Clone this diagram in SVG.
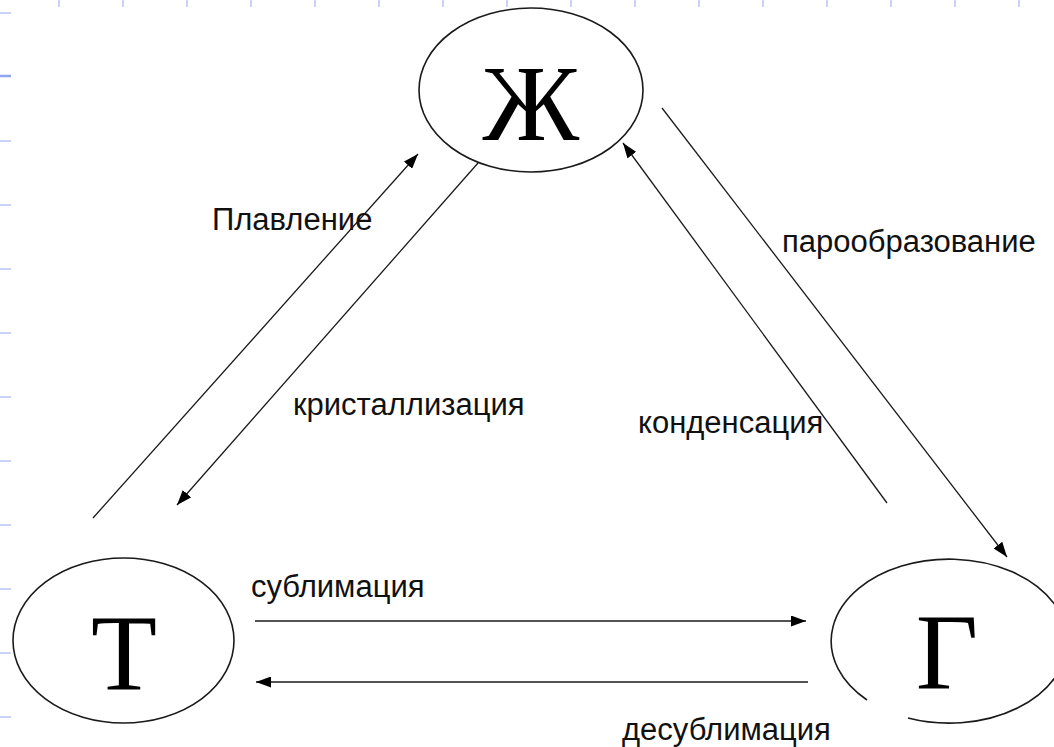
<svg xmlns="http://www.w3.org/2000/svg" width="1054" height="747" viewBox="0 0 1054 747">
  <style>
    .tick { stroke: #c9d4f7; stroke-width: 2; }
    .tick-dark { stroke: #8ea6f0; stroke-width: 2.5; }
    .node { fill: none; stroke: #1a1a1a; stroke-width: 1.6; }
    .big { font-family: "Liberation Serif", "Times New Roman", serif; font-size: 108px; fill: #000; text-anchor: middle; }
    .lbl { font-family: "Liberation Sans", Arial, sans-serif; font-size: 31px; fill: #111; }
    .conn { stroke: #1a1a1a; stroke-width: 1.3; fill: none; marker-end: url(#ah); }
    .conn-plain { stroke: #1a1a1a; stroke-width: 1.3; fill: none; }
  </style>
  <defs>
    <marker id="ah" viewBox="0 0 15 11" refX="15" refY="5.5" markerWidth="15" markerHeight="11" orient="auto" markerUnits="userSpaceOnUse">
      <path d="M0,0 L15,5.5 L0,11 z" fill="#000"/>
    </marker>
  </defs>
  <rect x="0" y="0" width="1054" height="747" fill="#fff"/>

  <g id="grid">
    <line class="tick" x1="59" y1="0" x2="59" y2="7"/>
    <line class="tick" x1="123" y1="0" x2="123" y2="7"/>
    <line class="tick" x1="187" y1="0" x2="187" y2="7"/>
    <line class="tick" x1="251" y1="0" x2="251" y2="7"/>
    <line class="tick" x1="315" y1="0" x2="315" y2="7"/>
    <line class="tick" x1="379" y1="0" x2="379" y2="7"/>
    <line class="tick" x1="443" y1="0" x2="443" y2="7"/>
    <line class="tick" x1="507" y1="0" x2="507" y2="7"/>
    <line class="tick" x1="571" y1="0" x2="571" y2="7"/>
    <line class="tick" x1="635" y1="0" x2="635" y2="7"/>
    <line class="tick" x1="699" y1="0" x2="699" y2="7"/>
    <line class="tick" x1="763" y1="0" x2="763" y2="7"/>
    <line class="tick" x1="827" y1="0" x2="827" y2="7"/>
    <line class="tick" x1="891" y1="0" x2="891" y2="7"/>
    <line class="tick" x1="955" y1="0" x2="955" y2="7"/>
    <line class="tick" x1="1019" y1="0" x2="1019" y2="7"/>
    <line class="tick" x1="0" y1="13" x2="11" y2="13"/>
    <line class="tick-dark" x1="0" y1="76" x2="11" y2="76"/>
    <line class="tick" x1="0" y1="141" x2="11" y2="141"/>
    <line class="tick" x1="0" y1="205" x2="11" y2="205"/>
    <line class="tick" x1="0" y1="269" x2="11" y2="269"/>
    <line class="tick" x1="0" y1="333" x2="11" y2="333"/>
    <line class="tick" x1="0" y1="397" x2="11" y2="397"/>
    <line class="tick" x1="0" y1="461" x2="11" y2="461"/>
    <line class="tick" x1="0" y1="525" x2="11" y2="525"/>
    <line class="tick" x1="0" y1="589" x2="11" y2="589"/>
    <line class="tick" x1="0" y1="653" x2="11" y2="653"/>
    <line class="tick" x1="0" y1="717" x2="11" y2="717"/>
  </g>

  <g id="node-liquid">
    <ellipse class="node" cx="531" cy="90" rx="112" ry="82"/>
    <text class="big" x="531" y="140">Ж</text>
  </g>

  <g id="node-solid">
    <ellipse class="node" cx="123.5" cy="640.5" rx="110.5" ry="82.5"/>
    <text class="big" x="124" y="689">Т</text>
  </g>

  <g id="node-gas">
    <path class="node" d="M908,718 A118,82 0 1 0 867,700"/>
    <text class="big" x="947" y="688">Г</text>
  </g>

  <g id="connectors">
    <line class="conn" x1="93" y1="518" x2="418" y2="154"/>
    <line class="conn" x1="478" y1="163" x2="177" y2="505"/>
    <line class="conn" x1="887" y1="503" x2="623" y2="143"/>
    <line class="conn" x1="662" y1="108" x2="1007" y2="557"/>
    <line class="conn" x1="255" y1="621" x2="806" y2="621"/>
    <line class="conn" x1="808" y1="682" x2="256" y2="682"/>
  </g>

  <g id="labels">
    <text class="lbl" x="212" y="230">Плавление</text>
    <text class="lbl" x="293" y="415">кристаллизация</text>
    <text class="lbl" x="638" y="433">конденсация</text>
    <text class="lbl" x="782" y="252">парообразование</text>
    <text class="lbl" x="251" y="597">сублимация</text>
    <text class="lbl" x="622" y="740">десублимация</text>
  </g>
</svg>
